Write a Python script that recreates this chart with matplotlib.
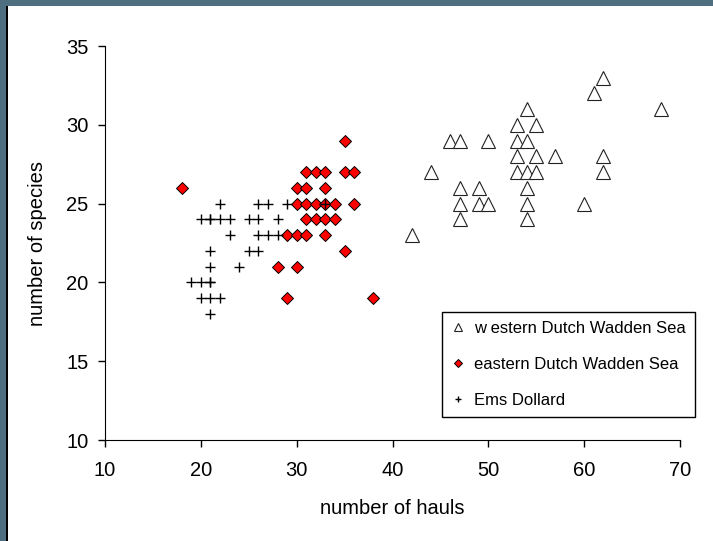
import matplotlib
matplotlib.use('Agg')
import matplotlib.pyplot as plt
from matplotlib.patches import Rectangle

plt.rcParams['font.family'] = ['Liberation Sans', 'DejaVu Sans']

# western Dutch Wadden Sea
west_hauls = [62, 61, 68, 54, 53, 55, 46, 47, 50, 53, 54, 53, 55, 57, 62, 44,
              53, 54, 55, 62, 47, 49, 54, 47, 49, 50, 54, 60, 47, 54, 42]
west_species = [33, 32, 31, 31, 30, 30, 29, 29, 29, 29, 29, 28, 28, 28, 28, 27,
                27, 27, 27, 27, 26, 26, 26, 25, 25, 25, 25, 25, 24, 24, 23]

# eastern Dutch Wadden Sea
east_hauls = [35, 31, 32, 33, 35, 36, 18, 30, 31, 33, 30, 31, 32, 33, 34, 36,
              31, 32, 33, 34, 29, 30, 31, 33, 35, 28, 30, 29, 38]
east_species = [29, 27, 27, 27, 27, 27, 26, 26, 26, 26, 25, 25, 25, 25, 25, 25,
                24, 24, 24, 24, 23, 23, 23, 23, 22, 21, 21, 19, 19]

# Ems Dollard
ems_hauls = [22, 26, 27, 29, 33, 20, 21, 21, 22, 23, 25, 26, 28, 23, 26, 27, 28,
             21, 25, 26, 21, 24, 19, 20, 21, 21, 20, 21, 22, 21]
ems_species = [25, 25, 25, 25, 25, 24, 24, 24, 24, 24, 24, 24, 24, 23, 23, 23, 23,
               22, 22, 22, 21, 21, 20, 20, 20, 20, 19, 19, 19, 18]

fig = plt.figure(figsize=(7.13, 5.41), dpi=100)
ax = fig.add_axes([105 / 713, 1 - 440 / 541, 575 / 713, 394 / 541])

ax.plot(west_hauls, west_species, linestyle='none', marker='^', markersize=9.5,
        markerfacecolor='white', markeredgecolor='#222222', markeredgewidth=0.8,
        label='w estern Dutch Wadden Sea')
ax.plot(east_hauls, east_species, linestyle='none', marker='D', markersize=6.6,
        markerfacecolor='#ff0000', markeredgecolor='black', markeredgewidth=0.7,
        label='eastern Dutch Wadden Sea')
ax.plot(ems_hauls, ems_species, linestyle='none', marker='+', markersize=7,
        color='black', markeredgewidth=1.0, label='Ems Dollard')

ax.set_xlim(10, 70)
ax.set_ylim(10, 35)
ax.set_xticks(range(10, 71, 10))
ax.set_yticks(range(10, 36, 5))
ax.spines['top'].set_visible(False)
ax.spines['right'].set_visible(False)
ax.tick_params(direction='out', length=5, width=1, labelsize=14.5)
ax.tick_params(axis='x', pad=10)
ax.tick_params(axis='y', pad=7)
ax.set_xlabel('number of hauls', fontsize=14.5, labelpad=14)
ax.set_ylabel('number of species', fontsize=14.5, labelpad=14)

leg = ax.legend(loc='upper left', bbox_to_anchor=(442 / 713, 1 - 312 / 541),
                bbox_transform=fig.transFigure, borderaxespad=0, fontsize=12,
                frameon=True, fancybox=False, edgecolor='black', framealpha=1,
                markerscale=0.65, handlelength=0.8, handletextpad=0.55,
                labelspacing=1.25, borderpad=0.55)
leg.get_frame().set_linewidth(1.0)

# slate border at top and left edge
fig.add_artist(Rectangle((0, 1 - 6 / 541), 1, 6 / 541, transform=fig.transFigure,
                         facecolor='#4d6f7f', edgecolor='none'))
fig.add_artist(Rectangle((0, 0), 6 / 713, 1, transform=fig.transFigure,
                         facecolor='#4d6f7f', edgecolor='none'))
fig.add_artist(Rectangle((6 / 713, 0), 1.5 / 713, 1 - 6 / 541, transform=fig.transFigure,
                         facecolor='black', edgecolor='none'))

fig.savefig('out.png', dpi=100)
